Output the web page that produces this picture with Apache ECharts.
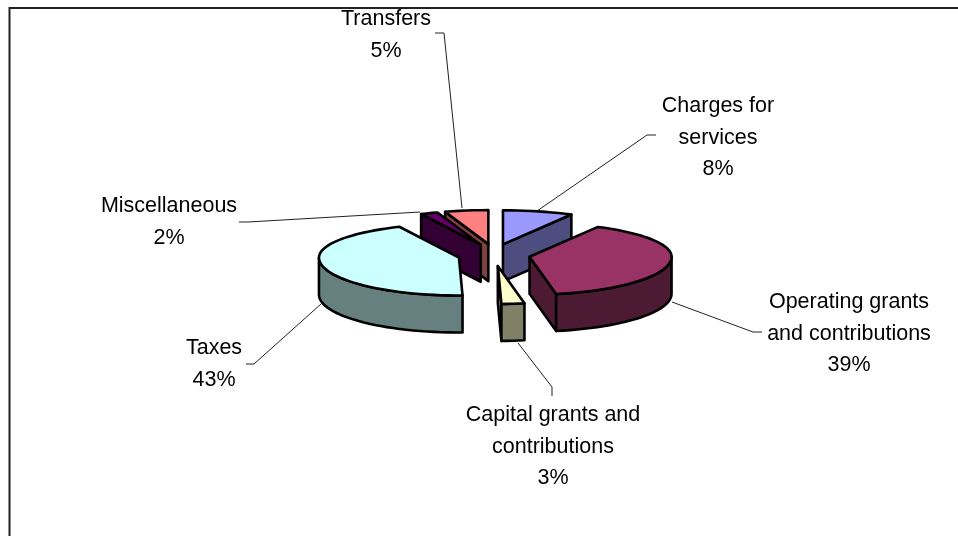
<!DOCTYPE html>
<html>
<head>
    <meta charset="utf-8">
    <title>Revenues</title>
    <script src="https://cdn.jsdelivr.net/npm/echarts@6/dist/echarts.min.js"></script>
    <style>
        html, body { margin: 0; padding: 0; background: #fff; }
        #main { width: 958px; height: 536px; }
    </style>
</head>
<body>
    <div id="main"></div>
    <script type="text/javascript">
    var categories = ['Charges for\nservices', 'Operating grants\nand contributions', 'Capital grants and\ncontributions', 'Taxes', 'Miscellaneous', 'Transfers'];
    // share of total in percent, labels round these
    var shares = [8.0, 39.0, 2.6, 43.4, 2.0, 5.0];
    var topColors = ['#9999ff', '#993366', '#ffffcc', '#ccffff', '#660066', '#ff8080'];
    var wallColors = ['#4d4d80', '#4d1a33', '#808066', '#668080', '#330033', '#804040'];

    // label centre and leader line for each slice
    var labelAnchors = [[718, 138], [849, 334], [553, 447], [214, 364], [169, 222], [386, 35]];
    var leaders = [
        [[537, 211], [647, 135], [656, 135]],
        [[672, 302], [753, 332], [762, 332]],
        [[518, 343], [552, 387], [552, 396]],
        [[321, 304], [254, 364], [246, 364]],
        [[420, 212], [248, 222], [239, 222]],
        [[462, 208], [444, 33], [435, 33]]
    ];

    // pie projection, the far side of the disc is a little flatter than the near side
    var cx = 494, cy = 255, depth = 37;
    var rxRight = 142, rxLeft = 140, ryBack = 34, ryFront = 38;
    var explodeX = 36, explodeY = 11;

    var total = shares.reduce(function (a, b) { return a + b; }, 0);
    var slices = [];
    var acc = 0;
    shares.forEach(function (v, i) {
        var a1 = acc / total * 360;
        acc += v;
        var a2 = acc / total * 360;
        slices.push({ index: i, a1: a1, a2: a2, mid: (a1 + a2) / 2 });
    });
    // back to front
    slices.sort(function (p, q) {
        return -Math.cos(p.mid * Math.PI / 180) + Math.cos(q.mid * Math.PI / 180);
    });

    function rimPoint(ox, oy, deg, drop) {
        var t = deg * Math.PI / 180;
        var sinT = Math.sin(t), cosT = Math.cos(t);
        return [ox + (sinT > 0 ? rxRight : rxLeft) * sinT, oy - (cosT > 0 ? ryBack : ryFront) * cosT + drop];
    }

    function arcPoints(ox, oy, from, to, drop) {
        var pts = [];
        var n = Math.max(2, Math.ceil((to - from) / 3));
        for (var k = 0; k <= n; k++) {
            pts.push(rimPoint(ox, oy, from + (to - from) * k / n, drop));
        }
        return pts;
    }

    function face(points, fill) {
        return {
            type: 'polygon',
            shape: { points: points },
            style: { fill: fill, stroke: '#000', lineWidth: 2.6, lineJoin: 'round' }
        };
    }

    function renderSlice(params) {
        var s = slices[params.dataIndex];
        var i = s.index;
        var t = s.mid * Math.PI / 180;
        var ox = cx + explodeX * Math.sin(t);
        var oy = cy - explodeY * Math.cos(t);
        var kids = [];
        var wall = wallColors[i];

        // flat cut sides, only the ones turned towards the viewer
        if (s.a1 > 180) {
            var p1 = rimPoint(ox, oy, s.a1, 0);
            kids.push(face([[ox, oy], p1, [p1[0], p1[1] + depth], [ox, oy + depth]], wall));
        }
        if (s.a2 < 180) {
            var p2 = rimPoint(ox, oy, s.a2, 0);
            kids.push(face([[ox, oy], p2, [p2[0], p2[1] + depth], [ox, oy + depth]], wall));
        }
        // outer rim, front half only
        var from = Math.max(s.a1, 90), to = Math.min(s.a2, 270);
        if (to > from) {
            var upper = arcPoints(ox, oy, from, to, 0);
            var lower = arcPoints(ox, oy, from, to, depth).reverse();
            kids.push(face(upper.concat(lower), wall));
        }
        // top
        kids.push(face([[ox, oy]].concat(arcPoints(ox, oy, s.a1, s.a2, 0)), topColors[i]));

        return { type: 'group', children: kids };
    }

    function renderLabel(params) {
        var i = params.dataIndex;
        return {
            type: 'group',
            children: [
                {
                    type: 'polyline',
                    shape: { points: leaders[i] },
                    style: { fill: null, stroke: '#222', lineWidth: 1 }
                },
                {
                    type: 'text',
                    x: labelAnchors[i][0],
                    y: labelAnchors[i][1],
                    style: {
                        text: categories[i] + '\n' + Math.round(shares[i]) + '%',
                        fill: '#000',
                        font: '21.5px "Liberation Sans", Arial, sans-serif',
                        lineHeight: 31.5,
                        align: 'center',
                        verticalAlign: 'middle'
                    }
                }
            ]
        };
    }

    var myChart = echarts.init(document.getElementById('main'), null, { renderer: 'canvas' });

    var option = {
        animation: false,
        backgroundColor: '#fff',
        // only the top and left of the chart frame fall inside the picture
        graphic: [{
            type: 'polyline',
            shape: { points: [[9.5, 536], [9.5, 8], [958, 8]] },
            style: { fill: null, stroke: '#222', lineWidth: 2 },
            z: 0
        }],
        series: [
            {
                type: 'custom',
                coordinateSystem: 'none',
                renderItem: renderLabel,
                data: categories,
                silent: true,
                z: 1
            },
            {
                type: 'custom',
                coordinateSystem: 'none',
                renderItem: renderSlice,
                data: slices.map(function (s) { return shares[s.index]; }),
                silent: true,
                z: 2
            }
        ]
    };

    myChart.setOption(option);
    </script>
</body>
</html>
